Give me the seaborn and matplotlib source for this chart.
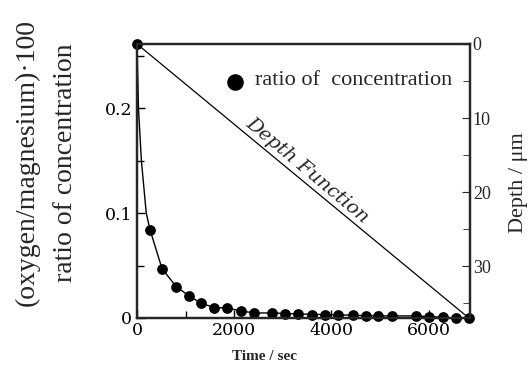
import numpy as np
import pandas as pd
import matplotlib
matplotlib.use("Agg")
import matplotlib.pyplot as plt
from matplotlib.ticker import MultipleLocator
import seaborn as sns

# measured points: ratio of concentration vs time
time_s = [0, 268, 515, 804, 1072, 1320, 1588, 1856, 2144, 2412, 2784, 3052, 3320,
          3608, 3876, 4144, 4433, 4701, 4948, 5237, 5732, 6000, 6289, 6557, 6825]
ratio = [0.261, 0.084, 0.047, 0.030, 0.021, 0.014, 0.010, 0.0095, 0.0067, 0.0048,
         0.0048, 0.0038, 0.0038, 0.003, 0.003, 0.003, 0.003, 0.002, 0.002, 0.002,
         0.002, 0.001, 0.001, 0.0, 0.0]

curve_time = [0, 30, 90, 190, 268, 515, 804, 1072, 1320, 1588, 1856, 2144, 2412,
              2784, 3320, 4144, 4948, 5732, 6557, 6825]
curve_ratio = [0.261, 0.20, 0.15, 0.10, 0.084, 0.047, 0.030, 0.021, 0.014, 0.010,
               0.0095, 0.0067, 0.0048, 0.0048, 0.0038, 0.003, 0.002, 0.002, 0.0, 0.0]

# depth function
depth_time = [0, 6825]
depth_um = [0, 37]

x_ticks = [0, 2000, 4000, 6000]
y_ticks = [0, 0.1, 0.2]
y_tick_labels = ["0", "0.1", "0.2"]
depth_ticks = [0, 10, 20, 30]

sns.set_style("ticks")
plt.rcParams["font.family"] = ["Liberation Serif", "DejaVu Serif"]

fig = plt.figure(figsize=(5.31, 3.80), dpi=100)
ax = fig.add_axes([137/531, 1-318/380, (470-137)/531, (318-44)/380])

df_pts = pd.DataFrame({"t": time_s, "r": ratio})
df_curve = pd.DataFrame({"t": curve_time, "r": curve_ratio})
sns.lineplot(data=df_curve, x="t", y="r", ax=ax, color="black", linewidth=1.0,
             sort=False, estimator=None)
sns.scatterplot(data=df_pts, x="t", y="r", ax=ax, color="black", s=60,
                edgecolor="black", linewidth=0, zorder=5, clip_on=False)

ax.set_xlim(0, 6850)
ax.set_ylim(0, 0.261)
ax.set_xticks(x_ticks)
ax.set_xticklabels([str(v) for v in x_ticks])
ax.xaxis.set_minor_locator(MultipleLocator(1000))
ax.set_yticks(y_ticks)
ax.set_yticklabels(y_tick_labels)
ax.yaxis.set_minor_locator(MultipleLocator(0.05))
ax.set_xlabel("")
ax.set_ylabel("")
for s in ax.spines.values():
    s.set_linewidth(1.6)
    s.set_color("black")
ax.tick_params(axis="both", which="both", direction="in", colors="black",
               width=1.0)
ax.tick_params(axis="both", which="major", length=6)
ax.tick_params(axis="both", which="minor", length=5)
ax.tick_params(axis="x", pad=3)
for lab in ax.get_xticklabels() + ax.get_yticklabels():
    lab.set_fontfamily("DejaVu Serif")
    lab.set_fontsize(12.5)

ax2 = ax.twinx()
df_depth = pd.DataFrame({"t": depth_time, "d": depth_um})
sns.lineplot(data=df_depth, x="t", y="d", ax=ax2, color="black", linewidth=0.9)
ax2.set_ylim(37, 0)
ax2.set_yticks(depth_ticks)
ax2.set_yticklabels([str(v) for v in depth_ticks])
ax2.yaxis.set_minor_locator(MultipleLocator(5))
ax2.tick_params(axis="y", which="both", direction="in", labelsize=13, pad=2)
ax2.tick_params(axis="y", which="major", length=6)
ax2.tick_params(axis="y", which="minor", length=5)
ax2.set_ylabel("")
for s in ax2.spines.values():
    s.set_linewidth(1.6)

# legend-like annotation
ax.scatter([0.295], [0.86], transform=ax.transAxes, s=120, color="black", zorder=6)
ax.text(0.355, 0.865, "ratio of  concentration", transform=ax.transAxes,
        fontsize=16, va="center", ha="left")

# Depth Function label
ax2.text(3497, 17.0, "Depth Function", rotation=-39.8, rotation_mode="anchor",
         ha="center", va="center", fontsize=14, style="italic",
         family="DejaVu Serif")

# axis labels
fig.text(27/531, 1-162/380, "(oxygen/magnesium)\u00b7100", rotation=90,
         ha="center", va="center", fontsize=20)
fig.text(65/531, 1-163/380, "ratio of concentration", rotation=90,
         ha="center", va="center", fontsize=20)
fig.text(518/531, 1-183/380, "Depth / \u03bcm", rotation=90,
         ha="center", va="center", fontsize=16)
fig.text(265/531, 1-357/380, "Time / sec", ha="center", va="center",
         fontsize=11, fontweight="bold")

fig.savefig("out.png", dpi=100)
